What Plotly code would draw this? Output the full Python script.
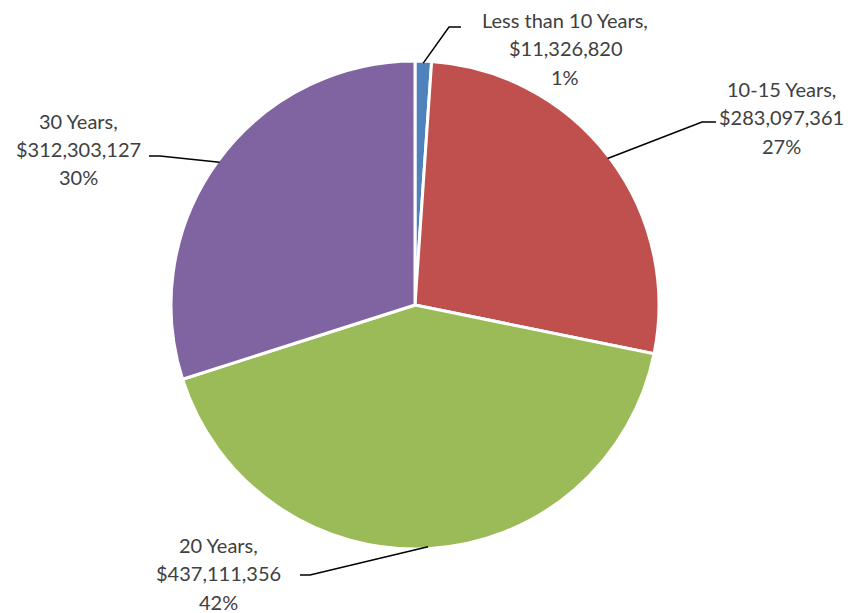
import math
import plotly.graph_objects as go

categories = ["Less than 10 Years", "10-15 Years", "20 Years", "30 Years"]
values = [11326820, 283097361, 437111356, 312303127]
colors = ["#4F81BD", "#C0504D", "#9BBB59", "#8064A2"]

W, H = 859, 613
OFF = 8  # page body margin in the browser
cx, cy, R = 415, 305, 244

# label layout (pixel positions of text centres and leader elbows)
label_pos = [(565, 48), (781, 117), (218, 573), (78, 149)]
elbows = [((449, 27), (461, 27)), ((702, 122), (716, 122)),
          ((310, 575), (300, 575)), ((160, 156), (149, 156))]

def px(x):
    return (x - OFF) / W

def py(y):
    return 1 - (y - OFF) / H

fig = go.Figure(go.Pie(
    labels=categories, values=values, sort=False, direction="clockwise",
    rotation=0, textinfo="none", hoverinfo="label+value+percent",
    marker=dict(colors=colors, line=dict(color="white", width=3)),
    domain=dict(x=[px(cx - R), px(cx + R)], y=[py(cy + R), py(cy - R)]),
    showlegend=False,
))

total = sum(values)
cum = 0
annotations = []
shapes = []
for i, (cat, v) in enumerate(zip(categories, values)):
    mid = (cum + v / 2) / total * 2 * math.pi
    cum += v
    ex = cx + (R - 2) * math.sin(mid)
    ey = cy - (R - 2) * math.cos(mid)
    (e1x, e1y), (e2x, e2y) = elbows[i]
    shapes.append(dict(type="path", xref="paper", yref="paper",
                       path=f"M {px(ex)},{py(ey)} L {px(e1x)},{py(e1y)} L {px(e2x)},{py(e2y)}",
                       line=dict(color="black", width=1.5)))
    pct = round(v / total * 100)
    lines = [f"{cat},", f"${v:,}", f"{pct}%"]
    tx, ty = label_pos[i]
    for j, t in enumerate(lines):
        annotations.append(dict(x=px(tx), y=py(ty + (j - 1) * 28.5), xref="paper", yref="paper",
                                text=t, showarrow=False, xanchor="center", yanchor="middle",
                                borderpad=0,
                                font=dict(family="Lato", size=20, color="#404040")))

fig.update_layout(width=W, height=H, margin=dict(l=0, r=0, t=0, b=0),
                  paper_bgcolor="white", plot_bgcolor="white",
                  annotations=annotations, shapes=shapes)
fig.write_html("out.html")
